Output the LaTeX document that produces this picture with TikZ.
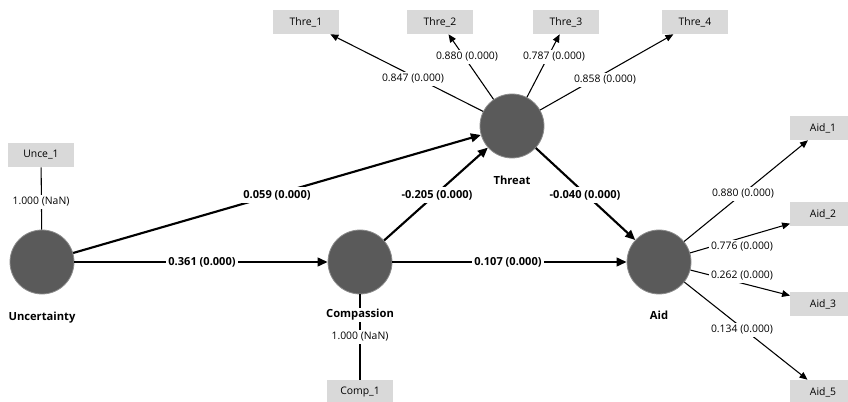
\documentclass[tikz,border=0pt]{standalone}
\usepackage{fontspec}
\setmainfont{Open Sans}
\usetikzlibrary{arrows.meta}
\definecolor{lvfill}{HTML}{5A5A5A}
\definecolor{lvedge}{HTML}{8C8C8C}
\definecolor{mvfill}{HTML}{D9D9D9}
\begin{document}
\begin{tikzpicture}[x=0.75pt,y=-0.75pt,
  lv/.style={circle,fill=lvfill,draw=lvedge,line width=0.6pt,minimum size=48pt,inner sep=0pt},
  mv/.style={rectangle,fill=mvfill,minimum width=49pt,minimum height=18pt,inner sep=0pt,font=\fontsize{7.8}{9}\selectfont},
  lvname/.style={font=\fontsize{8.4}{10}\selectfont\bfseries,fill=white,inner sep=1pt},
  ldg/.style={font=\fontsize{7.8}{9}\selectfont,fill=white,inner sep=1.5pt},
  coef/.style={font=\fontsize{8.3}{10}\selectfont\bfseries,fill=white,inner sep=2pt},
  structarrow/.style={line width=1.6pt,-{Triangle[length=7.5pt,width=6.5pt]}},
  indarrow/.style={line width=0.8pt,-{Triangle[length=6pt,width=5pt]}},
  indline/.style={line width=0.8pt}
]
\clip (0,0) rectangle (848,402);
\fill[white] (0,0) rectangle (848,402);

% latent variables
\node[lv] (U) at (42,262) {};
\node[lv] (C) at (360,262) {};
\node[lv] (T) at (512,126) {};
\node[lv] (A) at (659,262) {};

% indicators
\node[mv] (unce1) at (41,155) {Unce\_1};
\node[mv] (comp1) at (360,392) {Comp\_1};
\node[mv] (t1) at (306,22) {Thre\_1};
\node[mv] (t2) at (440,22) {Thre\_2};
\node[mv] (t3) at (566,22) {Thre\_3};
\node[mv] (t4) at (695,22) {Thre\_4};
\node[mv] (a1) at (823,128) {Aid\_1};
\node[mv] (a2) at (823,214) {Aid\_2};
\node[mv] (a3) at (823,304) {Aid\_3};
\node[mv] (a5) at (823,392) {Aid\_5};

% structural paths
\draw[structarrow] (U) -- (C);
\draw[structarrow] (U) -- (T);
\draw[structarrow] (C) -- (T);
\draw[structarrow] (C) -- (A);
\draw[structarrow] (T) -- (A);

% measurement paths
\draw[indline] (unce1) -- (U);
\draw[indline] (C) -- (comp1);
\draw[indarrow] (T) -- (t1);
\draw[indarrow] (T) -- (t2);
\draw[indarrow] (T) -- (t3);
\draw[indarrow] (T) -- (t4);
\draw[indarrow] (A) -- (a1);
\draw[indarrow] (A) -- (a2);
\draw[indarrow] (A) -- (a3);
\draw[indarrow] (A) -- (a5);

% structural coefficients
\node[coef] (c1) at (202,262) {0.361 (0.000)};
\node[coef] (c2) at (508,262) {0.107 (0.000)};
\node[coef] (c3) at (277,195) {0.059 (0.000)};
\node[coef] (c4) at (437,195) {-0.205 (0.000)};
\node[coef] (c5) at (585,195) {-0.040 (0.000)};

% loadings
\node[ldg] (l1) at (41,202) {1.000 (NaN)};
\node[ldg] (l2) at (360,337) {1.000 (NaN)};
\node[ldg] (l3) at (413,79) {0.847 (0.000)};
\node[ldg] (l4) at (467,57) {0.880 (0.000)};
\node[ldg] (l5) at (554,57) {0.787 (0.000)};
\node[ldg] (l6) at (605,80) {0.858 (0.000)};
\node[ldg] (l7) at (743,194) {0.880 (0.000)};
\node[ldg] (l8) at (742,247) {0.776 (0.000)};
\node[ldg] (l9) at (742,276) {0.262 (0.000)};
\node[ldg] (l10) at (742,330) {0.134 (0.000)};

% latent names
\node[lvname] (nU) at (42,318) {Uncertainty};
\node[lvname] (nC) at (360,315) {Compassion};
\node[lvname] (nT) at (512,180) {Threat};
\node[lvname] (nA) at (659,315) {Aid};
\end{tikzpicture}
\end{document}
